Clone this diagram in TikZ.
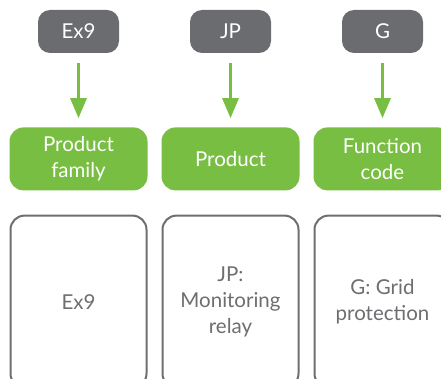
\documentclass[tikz,border=0pt]{standalone}
\usepackage{fontspec}
\setmainfont{Lato}
\usetikzlibrary{positioning}
\usetikzlibrary{arrows.meta}
\definecolor{codegray}{HTML}{6B6C6F}
\definecolor{fieldgreen}{HTML}{78BE43}
\definecolor{descgray}{HTML}{6D6E71}

\begin{document}
\begin{tikzpicture}[x=1pt,y=1pt,
  codebox/.style={rectangle,rounded corners=12pt,fill=codegray,text=white,minimum width=81pt,minimum height=43pt,inner sep=0pt,font=\fontsize{20.5}{26}\selectfont},
  fieldbox/.style={rectangle,rounded corners=14pt,fill=fieldgreen,text=white,minimum width=138pt,minimum height=63pt,inner sep=0pt,align=center,font=\fontsize{20.5}{26}\selectfont},
  descbox/.style={rectangle,rounded corners=14pt,draw=descgray,line width=2pt,fill=white,text=descgray,minimum width=136pt,minimum height=172pt,inner sep=0pt,align=center,font=\fontsize{20.5}{26}\selectfont},
  codearrow/.style={draw=fieldgreen,line width=3pt,-{Triangle[width=16pt,length=20pt]},shorten <=10pt,shorten >=9pt}]
\useasboundingbox (0,0) rectangle (441,378);
\clip (0,0) rectangle (441,378);

% codes
\node[codebox] (ex9) at (78.5,346.5) {Ex9};
\node[codebox] (jp) at (230.5,346.5) {JP};
\node[codebox] (g) at (382.5,346.5) {G};

% fields
\node[fieldbox,below=74pt of ex9] (family) {Product\\family};
\node[fieldbox,below=74pt of jp] (product) {Product};
\node[fieldbox,below=74pt of g] (function) {Function\\code};

\draw[codearrow] (ex9) -- (family);
\draw[codearrow] (jp) -- (product);
\draw[codearrow] (g) -- (function);

% descriptions
\node[descbox,below=24pt of family] (ex9desc) {Ex9};
\node[descbox,below=24pt of product] (jpdesc) {JP:\\Monitoring\\relay};
\node[descbox,below=24pt of function] (gdesc) {G: Grid\\protection};

\end{tikzpicture}
\end{document}
